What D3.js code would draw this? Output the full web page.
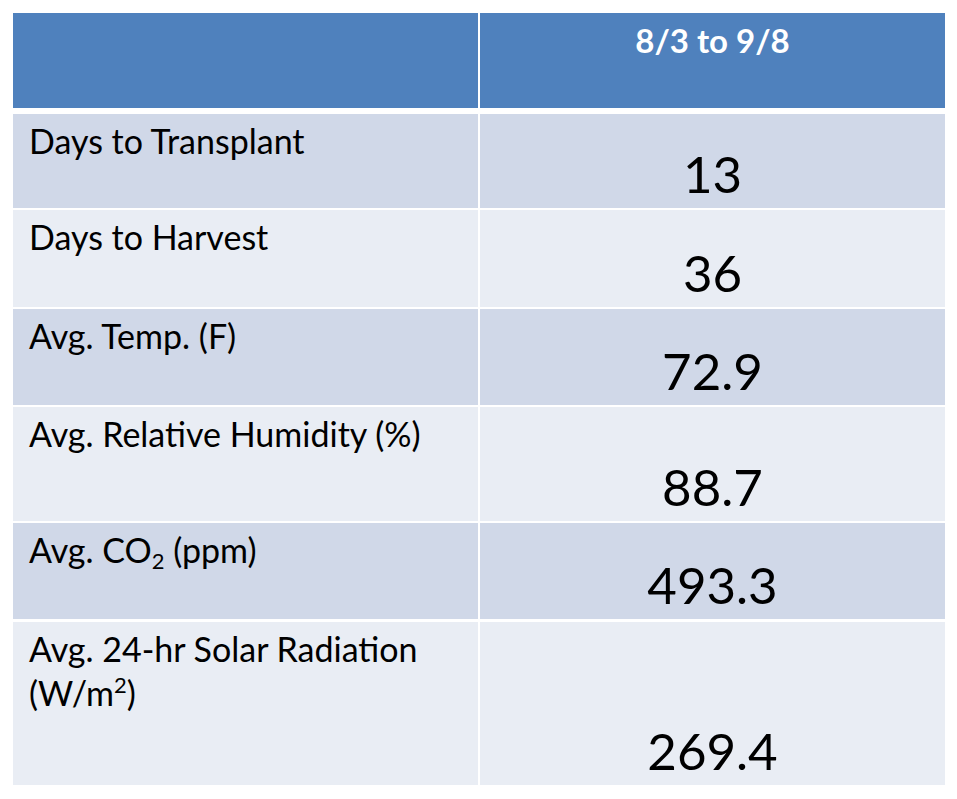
<!DOCTYPE html>
<html>
<head>
<meta charset="utf-8">
<script src="https://cdn.jsdelivr.net/npm/d3@7"></script>
<style>
  body { margin: 0; background: #fff; }
  svg { display: block; }
  text { font-family: Lato, "Open Sans", sans-serif; }
</style>
</head>
<body>
<svg id="chart" width="957" height="799"></svg>
<script>
const header = ['', '8/3 to 9/8'];

// each label is a list of lines, each line a list of [text, kind] pieces
const labels = [
  [[['Days to Transplant', 'n']]],
  [[['Days to Harvest', 'n']]],
  [[['Avg. Temp. (F)', 'n']]],
  [[['Avg. Relative Humidity (%)', 'n']]],
  [[['Avg. CO', 'n'], ['2', 'sub'], [' (ppm)', 'n']]],
  [[['Avg. 24-hr Solar Radiation', 'n']], [['(W/m', 'n'], ['2', 'sup'], [')', 'n']]]
];

const values = ['13', '36', '72.9', '88.7', '493.3', '269.4'];

// layout (row heights and gaps in px)
const headerHeight = 95;
const rowHeights = [94, 97, 96, 114, 96, 163];
const rowGaps = [6, 2, 2, 2, 2, 3];
const tableTop = 13;
const colEdges = [13, 478, 480, 945];

const svg = d3.select('#chart');

// compute row tops
let rowTops = [];
let y = tableTop + headerHeight;
rowHeights.forEach((h, i) => {
  y += rowGaps[i];
  rowTops.push(y);
  y += h;
});

const cols = [
  {x: colEdges[0], w: colEdges[1] - colEdges[0]},
  {x: colEdges[2], w: colEdges[3] - colEdges[2]}
];

// header cells
svg.selectAll('rect.head')
  .data(cols)
  .enter().append('rect')
  .attr('class', 'head')
  .attr('x', d => d.x)
  .attr('y', tableTop)
  .attr('width', d => d.w)
  .attr('height', headerHeight)
  .attr('fill', '#4F81BD');

svg.append('text')
  .attr('x', cols[1].x + cols[1].w / 2)
  .attr('y', 53)
  .attr('text-anchor', 'middle')
  .attr('font-size', 33)
  .attr('font-weight', 'bold')
  .attr('fill', '#fff')
  .text(header[1]);

// body rows
const rows = svg.selectAll('g.row')
  .data(values.map((v, i) => ({label: labels[i], value: v, i: i})))
  .enter().append('g')
  .attr('class', 'row')
  .attr('transform', d => `translate(0,${rowTops[d.i]})`);

rows.selectAll('rect')
  .data(d => cols.map(c => ({c: c, i: d.i})))
  .enter().append('rect')
  .attr('x', d => d.c.x)
  .attr('y', 0)
  .attr('width', d => d.c.w)
  .attr('height', d => rowHeights[d.i])
  .attr('fill', d => d.i % 2 === 0 ? '#D0D8E8' : '#E9EDF4');

// labels
const shift = {sub: 6, sup: -13, n: 0};
rows.each(function(d) {
  let g = d3.select(this);
  d.label.forEach((line, li) => {
    let t = g.append('text')
      .attr('x', 29)
      .attr('y', 40 + li * 44)
      .attr('font-size', 34)
      .attr('fill', '#000');
    let prev = 0;
    line.forEach(p => {
      let ts = t.append('tspan').text(p[0]);
      let dy = shift[p[1]] - prev;
      if (dy !== 0) ts.attr('dy', dy);
      if (p[1] !== 'n') ts.attr('font-size', 22);
      prev = shift[p[1]];
    });
  });
});

// values
rows.append('text')
  .attr('x', cols[1].x + cols[1].w / 2)
  .attr('y', d => rowHeights[d.i] - 15)
  .attr('text-anchor', 'middle')
  .attr('font-size', 51)
  .attr('fill', '#000')
  .text(d => d.value);
</script>
</body>
</html>
